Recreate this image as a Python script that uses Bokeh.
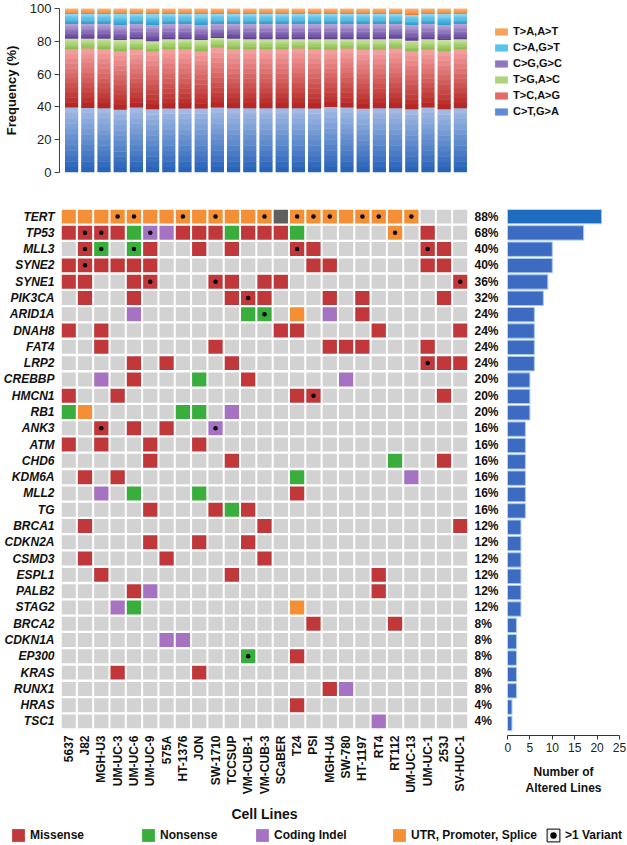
import math
import numpy as np
from bokeh.plotting import figure
from bokeh.models import (Range1d, FixedTicker, LinearAxis, Legend, LegendItem,
                          ColumnDataSource, BoxAnnotation, Label)
from bokeh.layouts import column, row
from bokeh.embed import file_html
from bokeh.resources import INLINE

FONT = "Liberation Sans"

# ---------------- data ----------------
cell_lines = ["5637", "J82", "MGH-U3", "UM-UC-3", "UM-UC-6", "UM-UC-9", "575A", "HT-1376",
              "JON", "SW-1710", "TCCSUP", "VM-CUB-1", "VM-CUB-3", "SCaBER", "T24", "PSI",
              "MGH-U4", "SW-780", "HT-1197", "RT4", "RT112", "UM-UC-13", "UM-UC-1", "253J",
              "SV-HUC-1"]

# mutation spectrum (%), one value per cell line
freq_CT = [39.6, 39.4, 39.2, 38.2, 39.6, 38.5, 39.0, 39.0, 39.0, 39.6, 39.2, 39.2, 39.2,
           39.2, 39.2, 39.0, 40.0, 39.6, 38.8, 39.2, 39.2, 38.5, 39.6, 38.5, 39.2]
freq_TC = [35.6, 36.2, 36.0, 35.8, 35.2, 35.5, 36.2, 36.2, 35.0, 36.4, 36.0, 36.0, 36.0,
           36.0, 36.4, 36.2, 34.8, 36.0, 36.0, 35.6, 36.4, 35.5, 35.2, 35.5, 36.0]
freq_TG = [6.4, 6.0, 6.4, 6.8, 6.4, 6.0, 6.0, 6.0, 6.8, 6.0, 6.4, 6.0, 6.0,
           6.0, 5.6, 6.0, 6.4, 5.6, 6.4, 6.4, 6.0, 6.4, 6.4, 6.8, 6.0]
freq_CG = [9.0, 9.0, 9.0, 9.2, 9.4, 10.0, 9.4, 9.4, 9.2, 8.6, 9.0, 9.4, 9.4,
           9.4, 9.4, 9.4, 9.4, 9.4, 9.4, 9.4, 9.0, 9.6, 9.4, 9.2, 9.4]
freq_CA = [6.0, 6.0, 6.0, 6.6, 6.0, 6.6, 6.0, 6.0, 6.6, 6.0, 6.0, 6.0, 6.0,
           6.0, 6.0, 6.0, 6.0, 6.0, 6.0, 6.0, 6.0, 6.0, 6.0, 6.6, 6.0]
freq_TA = [3.4, 3.4, 3.4, 3.4, 3.4, 3.4, 3.4, 3.4, 3.4, 3.4, 3.4, 3.4, 3.4,
           3.4, 3.4, 3.4, 3.4, 3.4, 3.4, 3.4, 3.4, 4.0, 3.4, 3.4, 3.4]
mut_types = ["C>T,G>A", "T>C,A>G", "T>G,A>C", "C>G,G>C", "C>A,G>T", "T>A,A>T"]

genes = ["TERT", "TP53", "MLL3", "SYNE2", "SYNE1", "PIK3CA", "ARID1A", "DNAH8", "FAT4",
         "LRP2", "CREBBP", "HMCN1", "RB1", "ANK3", "ATM", "CHD6", "KDM6A", "MLL2", "TG",
         "BRCA1", "CDKN2A", "CSMD3", "ESPL1", "PALB2", "STAG2", "BRCA2", "CDKN1A",
         "EP300", "KRAS", "RUNX1", "HRAS", "TSC1"]

# per gene, one character per cell line:
# M missense, N nonsense, I coding indel, U UTR/promoter/splice, X other, . none
# lower case = more than one variant
alterations = [
    "UUUuuUUuUuUUuXuuuUuuUu...",
    "MmmMNiIMMMNMMMN.....u.M..",
    ".mn.nM..M.M...mM......mM.",
    "MmMMMM.........MM.....MM.",
    "MM..Mm...mM.MM..........m",
    ".M..M.....MmM...M.M....M.",
    "....I......Nn.U.I.M......",
    "M.M..........MM....M....M",
    "..M......M......MMM...M..",
    "....M.M...M...........mMM",
    "..I.M...N..M.....I.......",
    "M..M..........Mm.......M.",
    "NU.....NN.I..............",
    "..m.M.M..i...............",
    "M.M..M..M................",
    ".....M....M.........N..M.",
    ".M.M..........N......I...",
    "..I.N...N.....M..........",
    ".....M...MNM.............",
    ".M..........M...........M",
    ".....M..M..M.............",
    ".M....M.....M............",
    "..M.......M........M.....",
    "....MI.............M.....",
    "...IN.........U..........",
    "...............M....M....",
    "......II.................",
    "...........n..M..........",
    "...M....M................",
    "................MI.......",
    "..............M..........",
    "...................I.....",
]
pct_altered = [88, 68, 40, 40, 36, 32, 24, 24, 24, 24, 20, 20, 20, 16, 16, 16, 16, 16, 16,
               12, 12, 12, 12, 12, 12, 8, 8, 8, 8, 8, 4, 4]
altered_lines = [21, 17, 10, 10, 9, 8, 6, 6, 6, 6, 5, 5, 5, 4, 4, 4, 4, 4, 4,
                 3, 3, 3, 3, 3, 3, 2, 2, 2, 2, 2, 1, 1]

legend_types = ["Missense", "Nonsense", "Coding Indel", "UTR, Promoter, Splice"]

# ---------------- styles ----------------
STATUS_COL = {"M": "#c1383b", "N": "#3aae3d", "I": "#a673c3", "U": "#f58f35",
              "X": "#5f5f5f", ".": "#d2d2d2"}
GRAD = [("#2460b7", "#a6bde6"),   # C>T  (bottom, top)
        ("#b3221f", "#f6a3a3"),   # T>C
        ("#86bc47", "#cbe5a0"),   # T>G
        ("#5c3d97", "#bba8d9"),   # C>G
        ("#2a9dcf", "#8ed9f3"),   # C>A
        ("#ef7c2c", "#fbb67b")]   # T>A
LEG_COL = ["#5f8bd6", "#e26a6a", "#aed57c", "#8f76c0", "#58c4ea", "#f8a35a"]


def hex2rgb(h):
    h = h.lstrip("#")
    return tuple(int(h[i:i + 2], 16) for i in (0, 2, 4))


def mix(c0, c1, t):
    a, b = hex2rgb(c0), hex2rgb(c1)
    return "#%02x%02x%02x" % tuple(int(round(a[i] + (b[i] - a[i]) * t)) for i in range(3))


def clean(p):
    p.grid.visible = False
    p.outline_line_color = None
    p.background_fill_color = "white"
    p.border_fill_color = "white"


def fig(**kw):
    return figure(output_backend="svg", toolbar_location=None, frame_align=False, **kw)


# ---------------- top stacked chart ----------------
pA = fig(width=467, height=180, x_range=Range1d(-0.747, 24.44), y_range=Range1d(0, 100),
         x_axis_location=None, min_border_left=56, min_border_right=0,
         min_border_top=8, min_border_bottom=8)
clean(pA)
series = [freq_CT, freq_TC, freq_TG, freq_CG, freq_CA, freq_TA]
NS = 12
BW = 0.815
L, R, B, T, C = [], [], [], [], []
for i in range(len(cell_lines)):
    base = 0.0
    for k, s in enumerate(series):
        v = s[i]
        for j in range(NS):
            y0 = base + v * j / NS
            y1 = base + v * (j + 1) / NS
            last = (k == len(series) - 1 and j == NS - 1)
            L.append(i - BW / 2)
            R.append(i + BW / 2)
            B.append(y0)
            T.append(y1 if last else y1 + 0.3)
            C.append(mix(GRAD[k][0], GRAD[k][1], (j + 0.5) / NS))
        base += v
pA.quad(left="l", right="r", bottom="b", top="t", fill_color="c", line_color=None,
        source=ColumnDataSource(dict(l=L, r=R, b=B, t=T, c=C)))
ya = pA.yaxis[0]
ya.ticker = FixedTicker(ticks=[0, 20, 40, 60, 80, 100])
ya.minor_tick_line_color = None
ya.major_tick_out = 5
ya.major_tick_in = 0
ya.axis_line_color = "#444444"
ya.major_tick_line_color = "#444444"
ya.major_label_text_font = FONT
ya.major_label_text_font_size = "13px"
ya.major_label_text_color = "#222222"
ya.major_label_standoff = 3
ya.axis_label = "Frequency (%)"
ya.axis_label_text_font = FONT
ya.axis_label_text_font_size = "13px"
ya.axis_label_text_font_style = "bold"
ya.axis_label_text_color = "#111111"
ya.axis_label_standoff = 8

# legend panel for the spectrum
pLA = fig(width=160, height=180, x_range=Range1d(0, 1), y_range=Range1d(0, 1),
          x_axis_location=None, y_axis_location=None, min_border=0)
clean(pLA)
leg_items = []
for k in reversed(range(len(mut_types))):
    r = pLA.quad(left=[np.nan], right=[np.nan], bottom=[np.nan], top=[np.nan],
                 fill_color=LEG_COL[k], line_color=None)
    leg_items.append(LegendItem(label=mut_types[k], renderers=[r]))
legA = Legend(items=leg_items, location=(26, 61), orientation="vertical",
              glyph_width=16, glyph_height=9, label_height=16, spacing=0,
              label_standoff=4, padding=0, margin=0, border_line_color=None,
              background_fill_alpha=0, label_text_font=FONT,
              label_text_font_size="11px", label_text_font_style="bold",
              label_text_color="#111111")
pLA.add_layout(legA)

# ---------------- oncoprint grid ----------------
pB = fig(width=504, height=645, x_range=Range1d(-0.44, 24.44), y_range=Range1d(31.43, -0.43),
         min_border_left=61, min_border_right=37, min_border_top=29, min_border_bottom=95)
clean(pB)
gx, gy, gc, dx, dy = [], [], [], [], []
for gi, s in enumerate(alterations):
    for ci, ch in enumerate(s):
        gx.append(ci)
        gy.append(gi)
        gc.append(STATUS_COL[ch.upper()])
        if ch.islower():
            dx.append(ci)
            dy.append(gi)
pB.rect(x="x", y="y", width=0.876, height=0.857, fill_color="c", line_color=None,
        source=ColumnDataSource(dict(x=gx, y=gy, c=gc)))
pB.scatter(x=dx, y=dy, size=4.5, marker="circle", fill_color="black", line_color=None)

yl = pB.yaxis[0]
yl.ticker = FixedTicker(ticks=list(range(len(genes))))
yl.major_label_overrides = {i: g for i, g in enumerate(genes)}
yl.axis_line_color = None
yl.major_tick_line_color = None
yl.minor_tick_line_color = None
yl.major_tick_out = 0
yl.major_tick_in = 0
yl.major_label_standoff = 7
yl.major_label_text_font = FONT
yl.major_label_text_font_size = "12px"
yl.major_label_text_font_style = "bold italic"
yl.major_label_text_color = "#111111"

yr = LinearAxis(ticker=FixedTicker(ticks=list(range(len(genes)))),
                major_label_overrides={i: "%d%%" % v for i, v in enumerate(pct_altered)})
yr.axis_line_color = None
yr.major_tick_line_color = None
yr.minor_tick_line_color = None
yr.major_tick_out = 0
yr.major_tick_in = 0
yr.major_label_standoff = 7
yr.major_label_text_font = FONT
yr.major_label_text_font_size = "12px"
yr.major_label_text_font_style = "bold"
yr.major_label_text_color = "#111111"
pB.add_layout(yr, "right")

xb = pB.xaxis[0]
xb.ticker = FixedTicker(ticks=list(range(len(cell_lines))))
xb.major_label_overrides = {i: c for i, c in enumerate(cell_lines)}
xb.major_label_orientation = math.pi / 2
xb.axis_line_color = None
xb.major_tick_line_color = None
xb.minor_tick_line_color = None
xb.major_tick_out = 0
xb.major_tick_in = 0
xb.major_label_standoff = 7
xb.major_label_text_font = FONT
xb.major_label_text_font_size = "12px"
xb.major_label_text_font_style = "bold"
xb.major_label_text_color = "#111111"
xb.axis_label = "Cell Lines"
xb.axis_label_text_font = FONT
xb.axis_label_text_font_size = "14px"
xb.axis_label_text_font_style = "bold"
xb.axis_label_text_color = "#111111"
xb.axis_label_standoff = 9

pB.add_layout(Label(x=-3.81, y=-1.28, text="Gene", text_font=FONT, text_font_size="14px",
                    text_font_style="bold", text_baseline="middle", text_align="left",
                    text_color="#111111"))
pB.add_layout(BoxAnnotation(left=-3.99, right=-0.81, top=-0.826, bottom=-0.765,
                            fill_color="black", fill_alpha=1.0, line_color=None))

# ---------------- altered lines bar chart ----------------
pC = fig(width=123, height=645, x_range=Range1d(0, 25), y_range=Range1d(31.736, -0.43),
         y_axis_location=None, min_border_left=3, min_border_right=8,
         min_border_top=29, min_border_bottom=90)
clean(pC)
bar_cols = ["#1d6cc0" if i == 0 else "#3d6bc2" for i in range(len(genes))]
pC.hbar(y="y", left=0, right="v", height=0.88, fill_color="c", line_color="#a9c9ee",
        line_width=1, source=ColumnDataSource(dict(y=list(range(len(genes))),
                                                   v=altered_lines, c=bar_cols)))
xc = pC.xaxis[0]
xc.ticker = FixedTicker(ticks=[0, 5, 10, 15, 20, 25])
xc.minor_tick_line_color = None
xc.major_tick_out = 4
xc.major_tick_in = 0
xc.axis_line_color = "#333333"
xc.major_tick_line_color = "#333333"
xc.major_label_standoff = 3
xc.major_label_text_font = FONT
xc.major_label_text_font_size = "12px"
xc.major_label_text_color = "#222222"
xc.axis_label = "Number of\nAltered Lines"
xc.axis_label_text_font = FONT
xc.axis_label_text_font_size = "12px"
xc.axis_label_text_font_style = "bold"
xc.axis_label_text_color = "#111111"
xc.axis_label_standoff = 10

# ---------------- bottom legend ----------------
pD = fig(width=627, height=20, x_range=Range1d(0, 1), y_range=Range1d(0, 1),
         x_axis_location=None, y_axis_location=None, min_border=0)
clean(pD)
leg_x = [10, 140, 254, 391, 545]
leg_renderers = []
for key in ["M", "N", "I", "U"]:
    leg_renderers.append([pD.quad(left=[np.nan], right=[np.nan], bottom=[np.nan],
                                  top=[np.nan], fill_color=STATUS_COL[key], line_color=None)])
rv1 = pD.quad(left=[np.nan], right=[np.nan], bottom=[np.nan], top=[np.nan],
              fill_color="#f2f2f2", line_color="black", line_width=1)
rv2 = pD.scatter(x=[np.nan], y=[np.nan], marker="circle", fill_color="black", line_color=None)
leg_renderers.append([rv1, rv2])
for lab, rs, lx in zip(legend_types + [">1 Variant"], leg_renderers, leg_x):
    lg = Legend(items=[LegendItem(label=lab, renderers=rs)], location=(lx, 2),
                orientation="horizontal", glyph_width=16, glyph_height=16, label_height=16,
                label_standoff=4, padding=0, margin=0, spacing=0, border_line_color=None,
                background_fill_alpha=0, label_text_font=FONT, label_text_font_size="12px",
                label_text_font_style="bold", label_text_color="#111111")
    pD.add_layout(lg)

layout = column(row(pA, pLA), row(pB, pC), pD)
open("out.html", "w").write(file_html(layout, INLINE))
